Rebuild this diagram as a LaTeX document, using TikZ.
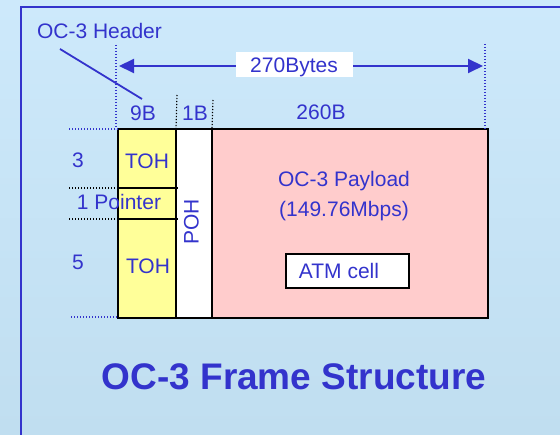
\documentclass[tikz,border=0pt]{standalone}
\usepackage{fontspec}
\setmainfont{Liberation Sans}
\usetikzlibrary{arrows.meta}
\definecolor{txtblue}{RGB}{51,51,204}
\definecolor{bgtop}{RGB}{205,233,251}
\definecolor{bgbot}{RGB}{192,222,240}
\definecolor{tohyellow}{RGB}{255,255,153}
\definecolor{paypink}{RGB}{255,204,204}
\begin{document}
\begin{tikzpicture}[x=1pt,y=-1pt,
  lbl/.style={text=txtblue, font=\fontsize{21}{24}\selectfont, inner sep=0pt, anchor=base},
  box/.style={draw=black, line width=1.3pt, anchor=north west, inner sep=0pt, outer sep=0pt},
  bdot/.style={draw=txtblue, line width=1.2pt, dash pattern=on 1.2pt off 1.8pt},
  kdot/.style={draw=black, line width=1.2pt, dash pattern=on 1.2pt off 1.8pt}]
\shade[top color=bgtop, bottom color=bgbot] (0,0) rectangle (560,435);
\useasboundingbox (0,0) rectangle (560,435);
% frame
\draw[txtblue, line width=2pt] (21,445) -- (21,7) -- (570,7);
% boxes
\node[box, fill=tohyellow, minimum width=58pt, minimum height=59pt] (toh1) at (118,129) {};
\node[box, fill=tohyellow, minimum width=58pt, minimum height=31pt] (ptr) at (118,188) {};
\node[box, fill=tohyellow, minimum width=58pt, minimum height=99pt] (toh2) at (118,219) {};
\node[box, fill=white, minimum width=36pt, minimum height=189pt] (poh) at (176,129) {};
\node[box, fill=paypink, minimum width=276pt, minimum height=189pt] (pay) at (212,129) {};
\node[box, fill=white, line width=1.2pt, minimum width=123pt, minimum height=34pt] (atm) at (286,254) {};
\draw[line width=1.3pt] (ptr.north west) -- ++(60,0);
\draw[line width=1.3pt] (toh2.north west) -- ++(60,0);
% guide coordinates
\coordinate (l1) at (69,129);
\coordinate (l2) at (69,188);
\coordinate (l3) at (69,219);
\coordinate (l4) at (71,317);
\coordinate (l4b) at (118,317);
\coordinate (v1) at (116,45);
\coordinate (v1b) at (116,129);
\coordinate (v2) at (177,95);
\coordinate (v3) at (213,100);
\coordinate (v4) at (485,44);
\coordinate (v4b) at (485,129);
\draw[bdot] (l1) -- (toh1.north west);
\draw[kdot] (l2) -- (ptr.north west);
\draw[kdot] (l3) -- (toh2.north west);
\draw[bdot] (l4) -- (l4b);
\draw[bdot] (v1) -- (v1b);
\draw[kdot] (v2) -- (poh.north west);
\draw[kdot] (v3) -- (pay.north west);
\draw[bdot] (v4) -- (v4b);
% 270 bytes arrow
\coordinate (aL) at (119,66);
\coordinate (aR) at (483,66);
\draw[txtblue, line width=2pt, {Triangle[length=15pt,width=14pt]}-{Triangle[length=15pt,width=14pt]}] (aL) -- (aR);
\node[fill=white, inner sep=0pt, minimum width=117pt, minimum height=25pt] (bytesbox) at (294.5,64.5) {};
\node[lbl] (bytes) at (294,73) {270Bytes};
% header pointer
\node[lbl] (hdr) at (99.5,39) {OC-3 Header};
\coordinate (hA) at (60,49);
\coordinate (hB) at (142,99);
\draw[txtblue, line width=1.8pt] (hA) -- (hB);
% column labels
\node[lbl] (b9) at (143,121) {9B};
\node[lbl] (b1) at (195,121) {1B};
\node[lbl] (b260) at (321,120) {260B};
% row labels
\node[lbl] (r3) at (78,168) {3};
\node[lbl] (r1) at (119,210) {1 Pointer};
\node[lbl] (r5) at (78,270) {5};
\node[lbl] (t1) at (147,169) {TOH};
\node[lbl] (t2) at (148,274) {TOH};
\node[text=txtblue, font=\fontsize{21}{24}\selectfont, inner sep=0pt, rotate=90] (pohl) at (191.5,222) {POH};
% payload
\node[lbl] (pl1) at (344,187) {OC-3 Payload};
\node[lbl] (pl2) at (344,217) {(149.76Mbps)};
\node[lbl] (atml) at (339,279) {ATM cell};
% title
\node[lbl, font=\bfseries\fontsize{37}{40}\selectfont] (title) at (294,390) {OC-3 Frame Structure};
\end{tikzpicture}
\end{document}
